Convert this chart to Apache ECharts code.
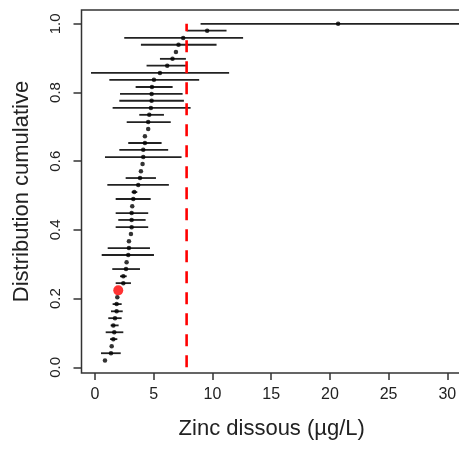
<!DOCTYPE html>
<html>
<head>
<meta charset="utf-8">
<script src="https://cdn.jsdelivr.net/npm/echarts@6/dist/echarts.min.js"></script>
<style>html,body{margin:0;padding:0;background:#fff;overflow:hidden;width:459px;height:450px;}#c{width:470px;height:450px;}</style>
</head>
<body>
<div id="c"></div>
<script>
// cumulative probability (y) of each sample
var cumProb = [0.020,0.041,0.061,0.082,0.102,0.122,0.143,0.163,0.184,0.204,
  0.224,0.245,0.265,0.286,0.306,0.327,0.347,0.367,0.388,0.408,
  0.429,0.449,0.469,0.490,0.510,0.531,0.551,0.571,0.592,0.612,
  0.633,0.653,0.673,0.694,0.714,0.735,0.755,0.776,0.796,0.816,
  0.837,0.857,0.878,0.898,0.918,0.939,0.959,0.980,1.000];
// dissolved zinc estimate (µg/L)
var zinc = [0.85,1.36,1.42,1.56,1.64,1.56,1.70,1.84,1.84,1.90,
  1.98,2.41,2.41,2.64,2.69,2.83,2.89,2.89,3.06,3.12,
  3.12,3.12,3.17,3.26,3.34,3.68,3.83,3.91,4.05,4.11,
  4.11,4.25,4.25,4.53,4.53,4.62,4.76,4.82,4.82,4.85,
  5.02,5.53,6.15,6.60,6.89,7.11,7.51,9.55,20.7];
// interval low / high (null = no interval drawn)
var zincLow = [null,0.51,null,1.28,0.91,1.33,1.13,1.36,1.50,null,
  null,1.76,2.13,1.47,null,0.57,1.08,null,null,1.76,
  1.98,1.76,null,1.76,3.12,1.05,2.61,null,null,0.85,
  2.07,2.83,null,null,2.70,3.77,1.50,2.07,2.13,3.46,
  1.22,-0.34,4.39,5.53,null,3.91,2.49,7.80,8.99];
var zincHigh = [null,2.19,null,1.90,2.41,2.01,2.27,2.36,2.27,null,
  null,3.06,2.70,3.83,null,5.02,4.68,null,null,4.53,
  4.31,4.53,null,4.74,3.60,6.29,5.19,null,null,7.37,
  6.23,5.67,null,null,6.45,5.87,8.14,7.57,7.46,6.61,
  8.87,11.42,7.74,7.74,null,10.35,12.61,11.20,31.5];
var highlightIndex = 10;        // red point
var threshold = 7.8;            // red dashed reference line
var xTicks = [0,5,10,15,20,25,30];
var yTicks = [0,0.2,0.4,0.6,0.8,1.0];

var pts = [], bars = [];
for (var i = 0; i < zinc.length; i++) {
  if (i !== highlightIndex) pts.push([zinc[i], cumProb[i]]);
  if (zincLow[i] !== null) bars.push([zincLow[i], zincHigh[i], cumProb[i]]);
}
var FONT = '"Liberation Sans", Arial, Helvetica, sans-serif';
var chart = echarts.init(document.getElementById('c'), null, {renderer:'canvas'});
chart.setOption({
  animation: false,
  backgroundColor: '#fff',
  grid: {left: 81.5, right: 8, top: 10, bottom: 77, show: true,
         borderColor: '#333', borderWidth: 1.5, backgroundColor: 'transparent'},
  xAxis: {
    type: 'value', min: -1.15, max: 31.25,
    splitLine: {show: false},
    axisLine: {show: false, onZero: false},
    axisTick: {show: true, length: 7, customValues: xTicks, lineStyle: {color: '#333', width: 1.5}},
    axisLabel: {customValues: xTicks, fontSize: 16, color: '#222', margin: 14, fontFamily: FONT},
    name: 'Zinc dissous (µg/L)', nameLocation: 'middle', nameGap: 45,
    nameTextStyle: {fontSize: 22, color: '#222', fontFamily: FONT}
  },
  yAxis: {
    type: 'value', min: -0.0166, max: 1.0402,
    splitLine: {show: false},
    axisLine: {show: false, onZero: false},
    axisTick: {show: true, length: 8, customValues: yTicks, lineStyle: {color: '#333', width: 1.5}},
    axisLabel: {customValues: yTicks, rotate: 90, fontSize: 15, color: '#222', margin: 18, fontFamily: FONT,
                formatter: function (v) { return v.toFixed(1); }},
    name: 'Distribution cumulative', nameLocation: 'middle', nameGap: 49, nameRotate: 90,
    nameTextStyle: {fontSize: 22, color: '#222', fontFamily: FONT}
  },
  series: [
    {
      type: 'custom', clip: true,
      data: bars,
      renderItem: function (params, api) {
        var a = api.coord([api.value(0), api.value(2)]);
        var b = api.coord([api.value(1), api.value(2)]);
        return {type: 'line', shape: {x1: a[0], y1: a[1], x2: b[0], y2: b[1]},
                style: {stroke: '#222', lineWidth: 1.8}};
      },
      z: 2
    },
    {
      type: 'line', data: [[threshold, 0], [threshold, 1]], symbol: 'none',
      lineStyle: {color: '#ff0000', width: 2.6, type: [12, 9]}, z: 3
    },
    {
      type: 'scatter', data: pts, symbol: 'circle', symbolSize: 4.5,
      itemStyle: {color: '#000'}, z: 4
    },
    {
      type: 'scatter', data: [[zinc[highlightIndex], cumProb[highlightIndex]]],
      symbol: 'circle', symbolSize: 10, itemStyle: {color: '#ff0000'}, z: 5
    }
  ]
});
</script>
</body>
</html>
